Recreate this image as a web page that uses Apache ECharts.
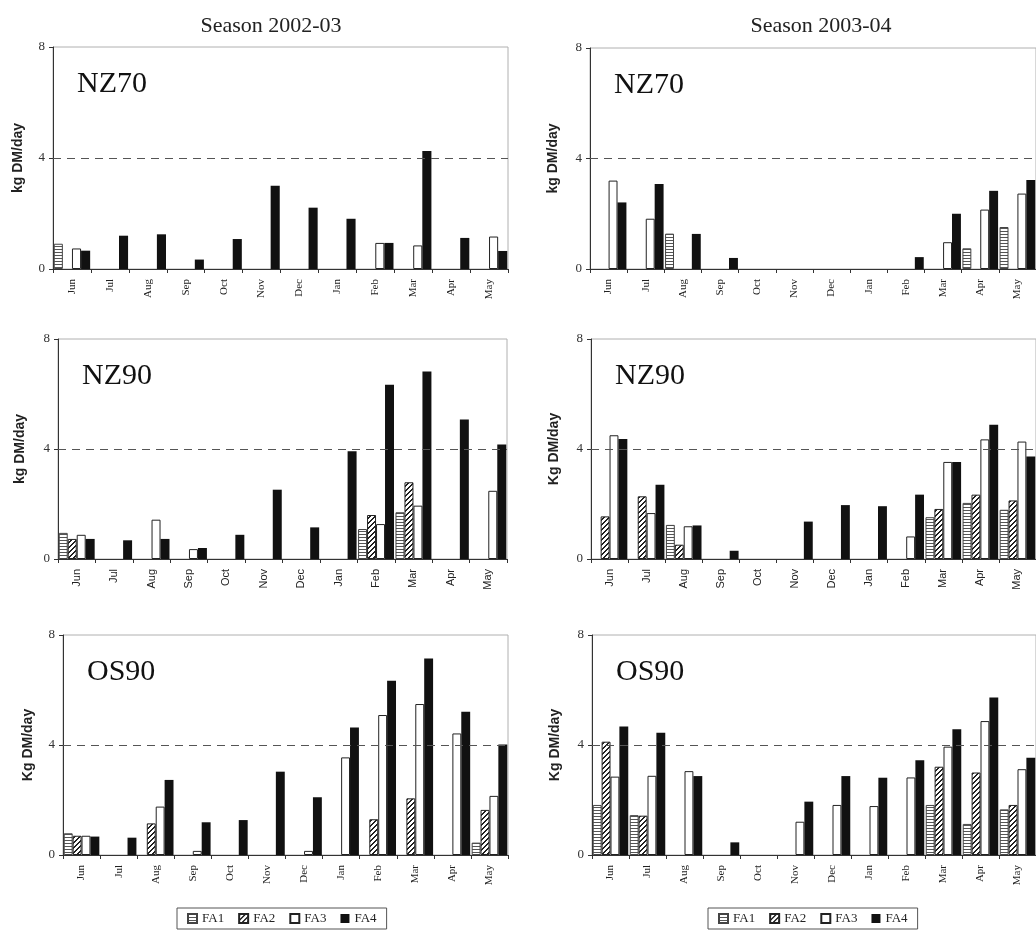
<!DOCTYPE html>
<html>
<head>
<meta charset="utf-8">
<script src="https://cdn.jsdelivr.net/npm/echarts@6/dist/echarts.min.js"></script>
<style>
html,body{margin:0;padding:0;background:#fff;}
#chart{width:1036px;height:938px;}
</style>
</head>
<body>
<div id="chart"></div>
<script>
// ---------- DATA ----------
const months = ['Jun','Jul','Aug','Sep','Oct','Nov','Dec','Jan','Feb','Mar','Apr','May'];
const seriesNames = ['FA1','FA2','FA3','FA4'];
const seasons = ['Season 2002-03','Season 2003-04'];
const panelLabels = ['NZ70','NZ90','OS90'];
const yAxisNames = [['kg DM/day','kg DM/day'],['kg DM/day','Kg DM/day'],['Kg DM/day','Kg DM/day']];
const yMin = 0, yMax = 8, yStep = 4;
const refLine = 4;

// NZ70, season 2002-03
const nz70_0203_fa1 = [0.91,null,null,null,null,null,null,null,null,null,null,null];
const nz70_0203_fa2 = [null,null,null,null,null,null,null,null,null,null,null,null];
const nz70_0203_fa3 = [0.74,null,null,null,null,null,null,null,0.94,0.85,null,1.17];
const nz70_0203_fa4 = [0.66,1.20,1.25,0.34,1.08,3.00,2.21,1.81,0.94,4.25,1.12,0.65];
// NZ70, season 2003-04
const nz70_0304_fa1 = [null,null,1.28,null,null,null,null,null,null,null,0.75,1.52];
const nz70_0304_fa2 = [null,null,null,null,null,null,null,null,null,null,null,null];
const nz70_0304_fa3 = [3.20,1.82,null,null,null,null,null,null,null,0.97,2.15,2.73];
const nz70_0304_fa4 = [2.41,3.08,1.27,0.40,null,null,null,null,0.43,2.00,2.83,3.22];
// NZ90, season 2002-03
const nz90_0203_fa1 = [0.95,null,null,null,null,null,null,null,1.09,1.70,null,null];
const nz90_0203_fa2 = [0.73,null,null,null,null,null,null,null,1.60,2.79,null,null];
const nz90_0203_fa3 = [0.88,null,1.43,0.36,null,null,null,null,1.27,1.94,null,2.48];
const nz90_0203_fa4 = [0.73,0.68,0.73,0.40,0.88,2.52,1.15,3.92,6.34,6.82,5.07,4.16];
// NZ90, season 2003-04
const nz90_0304_fa1 = [null,null,1.24,null,null,null,null,null,null,1.52,2.04,1.79];
const nz90_0304_fa2 = [1.55,2.28,0.52,null,null,null,null,null,null,1.82,2.34,2.13];
const nz90_0304_fa3 = [4.50,1.67,1.19,null,null,null,null,null,0.82,3.53,4.35,4.27];
const nz90_0304_fa4 = [4.36,2.70,1.22,0.30,null,1.36,1.96,1.92,2.34,3.53,4.88,3.73];
// OS90, season 2002-03
const os90_0203_fa1 = [0.79,null,null,null,null,null,null,null,null,null,null,0.45];
const os90_0203_fa2 = [0.70,null,1.15,null,null,null,null,null,1.30,2.06,null,1.64];
const os90_0203_fa3 = [0.70,null,1.76,0.15,null,null,0.15,3.55,5.09,5.49,4.42,2.15];
const os90_0203_fa4 = [0.67,0.63,2.73,1.19,1.27,3.03,2.10,4.64,6.34,7.15,5.21,4.02];
// OS90, season 2003-04
const os90_0304_fa1 = [1.82,1.45,null,null,null,null,null,null,null,1.82,1.13,1.66];
const os90_0304_fa2 = [4.12,1.43,null,null,null,null,null,null,null,3.21,3.00,1.82];
const os90_0304_fa3 = [2.85,2.88,3.05,null,null,1.21,1.82,1.78,2.82,3.94,4.87,3.12];
const os90_0304_fa4 = [4.67,4.45,2.87,0.46,null,1.94,2.87,2.81,3.45,4.57,5.73,3.54];

const panels = [
  [[nz70_0203_fa1,nz70_0203_fa2,nz70_0203_fa3,nz70_0203_fa4],[nz70_0304_fa1,nz70_0304_fa2,nz70_0304_fa3,nz70_0304_fa4]],
  [[nz90_0203_fa1,nz90_0203_fa2,nz90_0203_fa3,nz90_0203_fa4],[nz90_0304_fa1,nz90_0304_fa2,nz90_0304_fa3,nz90_0304_fa4]],
  [[os90_0203_fa1,os90_0203_fa2,os90_0203_fa3,os90_0203_fa4],[os90_0304_fa1,os90_0304_fa2,os90_0304_fa3,os90_0304_fa4]]
];

// ---------- STYLE / LAYOUT ----------
function makePattern(kind){
  const c = document.createElement('canvas');
  const ctx = c.getContext('2d');
  if (kind === 'h') {
    c.width = 4; c.height = 3;
    ctx.fillStyle = '#fff'; ctx.fillRect(0,0,4,3);
    ctx.fillStyle = '#555'; ctx.fillRect(0,0,4,1);
  } else {
    c.width = 5; c.height = 5;
    ctx.fillStyle = '#fff'; ctx.fillRect(0,0,5,5);
    ctx.fillStyle = '#222';
    for (let x=0;x<5;x++) for (let y=0;y<5;y++) if ((x+y)%5 < 2) ctx.fillRect(x,y,1,1);
  }
  return {image:c, repeat:'repeat'};
}
const styles = [
  {color: makePattern('h'), borderColor:'#444', borderWidth:1},
  {color: makePattern('d'), borderColor:'#222', borderWidth:1},
  {color: '#ffffff', borderColor:'#222', borderWidth:1},
  {color: '#111111', borderColor:'#111', borderWidth:0}
];

const gridBoxes = [
  [{left:53, top:47, width:455, height:222},{left:590, top:48, width:452, height:221}],
  [{left:58, top:339, width:449, height:220},{left:591, top:339, width:452, height:220}],
  [{left:63, top:635, width:445, height:220},{left:592, top:635, width:451, height:220}]
];
const nameGaps = [[28,30],[31,30],[28,30]];
const xLabelFonts = ['Liberation Serif','Liberation Sans','Liberation Serif'];

const grids = [], xAxes = [], yAxes = [], series = [], titles = [];
const seasonStyle = {fontFamily:'Liberation Serif', fontSize:22, fontWeight:'normal', color:'#222'};
titles.push({text:seasons[0], left:266, top:10, textAlign:'center', textStyle:seasonStyle});
titles.push({text:seasons[1], left:816, top:10, textAlign:'center', textStyle:seasonStyle});

let idx = 0;
for (let r=0;r<3;r++){
  for (let c=0;c<2;c++){
    const b = gridBoxes[r][c];
    grids.push({left:b.left, top:b.top, width:b.width, height:b.height, show:true, borderColor:'#b0b0b0', borderWidth:1, backgroundColor:'transparent'});
    xAxes.push({
      type:'category', gridIndex:idx, data:months, boundaryGap:true,
      axisLine:{show:true, lineStyle:{color:'#333', width:1}},
      axisTick:{show:true, length:4, inside:false, lineStyle:{color:'#333'}},
      axisLabel:{interval:0, rotate:90, margin:10, fontSize:11, fontFamily:xLabelFonts[r], color:'#222'},
      splitLine:{show:false}
    });
    yAxes.push({
      type:'value', gridIndex:idx, min:yMin, max:yMax, interval:yStep,
      name:yAxisNames[r][c], nameLocation:'middle', nameGap:nameGaps[r][c], nameRotate:90,
      nameTextStyle:{fontFamily:'Liberation Sans', fontWeight:'bold', fontSize:14, color:'#222'},
      axisLine:{show:true, lineStyle:{color:'#333', width:1}},
      axisTick:{show:true, length:4, lineStyle:{color:'#333'}},
      axisLabel:{fontFamily:'Liberation Serif', fontSize:13, color:'#333', margin:8},
      splitLine:{show:false}
    });
    titles.push({text:panelLabels[r], left:b.left+19, top:b.top+17, textStyle:{fontFamily:'Liberation Serif', fontSize:30, fontWeight:'normal', color:'#111'}});
    for (let s=0;s<4;s++){
      const ser = {
        name:seriesNames[s], type:'bar', xAxisIndex:idx, yAxisIndex:idx,
        data:panels[r][c][s], barGap:'0%', barCategoryGap:'4%',
        itemStyle:styles[s], emphasis:{disabled:true}, animation:false
      };
      if (s===3){
        ser.markLine = {silent:true, symbol:'none', animation:false,
          label:{show:false},
          lineStyle:{type:[8,6], color:'#555', width:1},
          data:[{yAxis:refLine}]};
      }
      series.push(ser);
    }
    idx++;
  }
}

const legendBase = {
  orient:'horizontal', top:908, itemWidth:9, itemHeight:9, itemGap:14, icon:'rect',
  borderColor:'#555', borderWidth:1, padding:[4,10],
  textStyle:{fontFamily:'Liberation Serif', fontSize:13, color:'#222'},
  data:seriesNames
};

const option = {
  backgroundColor:'#ffffff',
  animation:false,
  title:titles,
  grid:grids,
  xAxis:xAxes,
  yAxis:yAxes,
  legend:[Object.assign({}, legendBase, {left:177}), Object.assign({}, legendBase, {left:708})],
  series:series
};
const chart = echarts.init(document.getElementById('chart'), null, {renderer:'canvas'});
chart.setOption(option);
</script>
</body>
</html>
